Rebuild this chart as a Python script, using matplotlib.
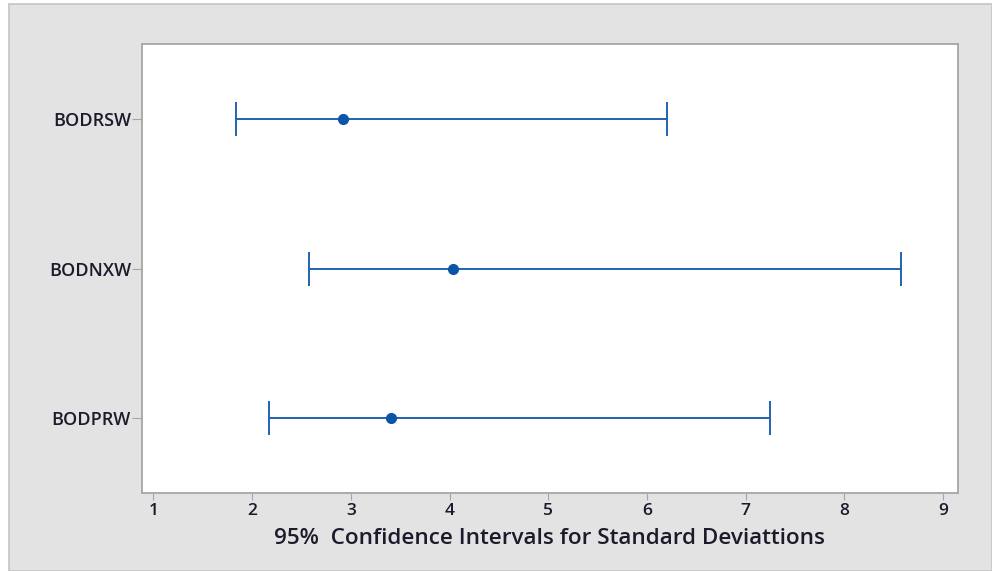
import matplotlib.pyplot as plt
from matplotlib.patches import Rectangle

# 95% CI for standard deviations
names = ["BODRSW", "BODNXW", "BODPRW"]
est = [2.92, 4.03, 3.41]
lower = [1.84, 2.58, 2.17]
upper = [6.20, 8.57, 7.25]

blue = "#1f63b0"
W, H = 992, 571

fig = plt.figure(figsize=(W / 100, H / 100), dpi=100)
fig.patch.set_facecolor("white")
# gray panel behind the chart
fig.patches.append(Rectangle((9 / W, 0), 1 - 9 / W, 1 - 4 / H, transform=fig.transFigure,
                             facecolor="#e3e3e3", edgecolor="#c4c4c4", lw=1.2, zorder=-10))

ax = fig.add_axes([142 / W, 1 - 493 / H, (958 - 142) / W, (493 - 44) / H])
ax.set_facecolor("white")

ypos = list(range(1, len(names) + 1))
xerr = [[e - l for e, l in zip(est, lower)], [u - e for e, u in zip(est, upper)]]
ax.errorbar(est, ypos, xerr=xerr, fmt="o", color=blue, ecolor=blue, mfc="#0b55a8", mec="#0b55a8",
            ms=7, elinewidth=1.4, capsize=12.5, capthick=1.4, zorder=3)

ax.set_xlim(0.885, 9.15)
ax.set_ylim(3.5, 0.5)
ax.set_yticks(ypos)
ax.set_yticklabels(names)
ax.set_xticks(range(1, 10))

txt = "#1b1b2b"
for lbl in ax.get_yticklabels():
    lbl.set_fontsize(13)
for lbl in ax.get_xticklabels():
    lbl.set_fontsize(12.5)
for lbl in ax.get_yticklabels() + ax.get_xticklabels():
    lbl.set_fontfamily("Open Sans")
    lbl.set_fontweight("semibold")
    lbl.set_color(txt)

ax.set_xlabel("95%  Confidence Intervals for Standard Deviattions", fontfamily="Open Sans",
              fontweight="semibold", fontsize=16.2, color=txt, labelpad=7)

for s in ax.spines.values():
    s.set_color("#a6a6a6")
    s.set_linewidth(1.3)
ax.tick_params(axis="y", length=7, color="#a6a6a6", pad=1)
ax.tick_params(axis="x", length=5, color="#a6a6a6", pad=2)

fig.savefig("out.png", dpi=100)
